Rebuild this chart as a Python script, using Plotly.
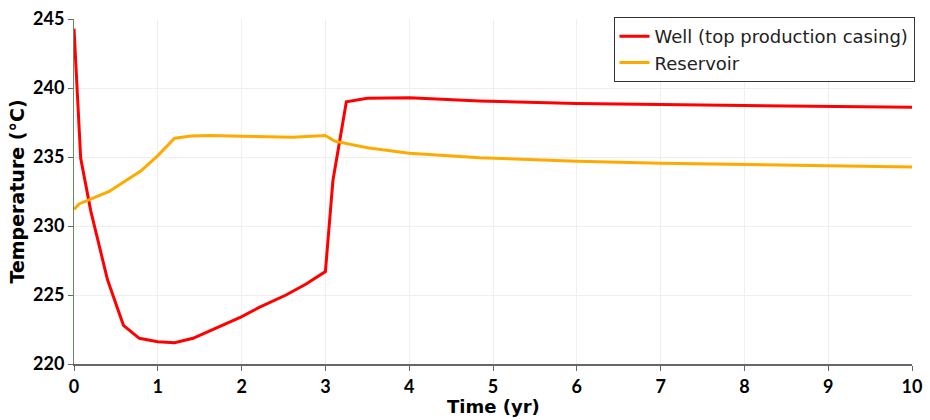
import plotly.graph_objects as go

# Well (top production casing)
well_t = [0.0, 0.08, 0.2, 0.4, 0.59, 0.78, 1.0, 1.2, 1.42, 1.58, 1.78, 1.99, 2.21, 2.53, 2.77, 3.0,
          3.09, 3.25, 3.5, 4.0, 4.84, 6.0, 7.0, 8.0, 9.0, 10.0]
well_T = [244.3, 234.9, 231.1, 226.1, 222.8, 221.86, 221.62, 221.54, 221.86, 222.3, 222.8, 223.4, 224.1,
          225.0, 225.8, 226.7, 233.3, 239.0, 239.25, 239.3, 239.06, 238.87, 238.8, 238.73, 238.66, 238.6]

# Reservoir
res_t = [0.0, 0.06, 0.42, 0.8, 1.0, 1.2, 1.4, 1.62, 2.0, 2.61, 3.0, 3.11, 3.5, 4.0, 4.84, 6.0, 7.0,
         8.0, 9.0, 10.0]
res_T = [231.2, 231.6, 232.5, 234.0, 235.1, 236.36, 236.52, 236.56, 236.5, 236.44, 236.56, 236.15, 235.67,
         235.28, 234.95, 234.69, 234.54, 234.45, 234.35, 234.28]

x_ticks = [0, 1, 2, 3, 4, 5, 6, 7, 8, 9, 10]
y_ticks = [220, 225, 230, 235, 240, 245]

fig = go.Figure()
fig.add_trace(go.Scatter(x=well_t, y=well_T, mode="lines", name="Well (top production casing)",
                         line=dict(color="#ff0000", width=3)))
fig.add_trace(go.Scatter(x=res_t, y=res_T, mode="lines", name="Reservoir",
                         line=dict(color="#ffaa00", width=3)))

tickfont = dict(family="Lato", size=18, color="#000000", weight="bold")
fig.update_layout(
    width=930, height=420,
    margin=dict(l=74, r=18, t=19, b=56),
    paper_bgcolor="white", plot_bgcolor="white",
    showlegend=True,
    legend=dict(x=1.003, y=1.006, xanchor="right", yanchor="top",
                bgcolor="white", bordercolor="#333333", borderwidth=1,
                font=dict(family="DejaVu Sans", size=18, color="#222222"),
                tracegroupgap=0, itemwidth=30),
    xaxis=dict(range=[0, 10], tickvals=x_ticks, ticktext=[str(v) for v in x_ticks],
               showgrid=True, gridcolor="#efefef", gridwidth=1,
               showline=True, linecolor="#666666", linewidth=2,
               ticks="outside", ticklen=5, tickcolor="#666666",
               tickfont=tickfont, zeroline=False, automargin=False),
    yaxis=dict(range=[220, 245], tickvals=y_ticks, ticktext=[str(v) for v in y_ticks],
               showgrid=True, gridcolor="#efefef", gridwidth=1,
               showline=True, linecolor="#6a8a6a", linewidth=1,
               ticks="outside", ticklen=5, tickcolor="#666666",
               tickfont=tickfont, zeroline=False, automargin=False,
               title=dict(text="Temperature (°C)", font=dict(family="DejaVu Sans", size=19, color="#000000", weight="bold"),
                          standoff=3)),
    annotations=[dict(text="Time (yr)", xref="paper", yref="paper", x=0.5, y=-0.123,
                      xanchor="center", yanchor="middle", showarrow=False,
                      font=dict(family="DejaVu Sans", size=18, color="#000000", weight="bold"))],
)

fig.write_html("out.html")
